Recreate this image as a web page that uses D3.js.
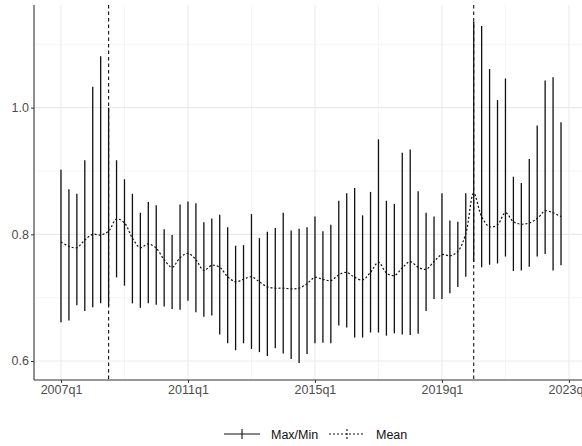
<!DOCTYPE html>
<html>
<head>
<meta charset="utf-8">
<script src="https://cdn.jsdelivr.net/npm/d3@7"></script>
<style>
  html, body { margin: 0; padding: 0; background: #fff; }
  svg { display: block; overflow: hidden; }
  text { font-family: "Liberation Sans", Arial, sans-serif; }
</style>
</head>
<body>
<svg id="chart" width="582" height="446"></svg>
<script>
// quarters 2007q1 .. 2022q4
var quarters = [];
for (var yr = 2007; yr <= 2022; yr++) {
    for (var q = 1; q <= 4; q++) quarters.push(yr + "q" + q);
}

var maxVals = [0.902, 0.871, 0.864, 0.917, 1.033, 1.081, 1.000, 0.917, 0.887, 0.864,
    0.834, 0.851, 0.846, 0.808, 0.799, 0.847, 0.852, 0.849, 0.819, 0.825,
    0.831, 0.811, 0.782, 0.783, 0.832, 0.794, 0.804, 0.810, 0.834, 0.806,
    0.809, 0.811, 0.828, 0.805, 0.815, 0.853, 0.865, 0.873, 0.830, 0.867,
    0.950, 0.853, 0.848, 0.929, 0.934, 0.868, 0.834, 0.828, 0.865, 0.822,
    0.820, 0.865, 1.136, 1.129, 1.061, 1.012, 1.046, 0.891, 0.881, 0.919,
    0.972, 1.043, 1.048, 0.977];

var minVals = [0.661, 0.664, 0.688, 0.679, 0.685, 0.691, 0.686, 0.732, 0.719, 0.691,
    0.684, 0.691, 0.689, 0.686, 0.682, 0.681, 0.695, 0.677, 0.670, 0.672,
    0.642, 0.628, 0.617, 0.628, 0.619, 0.614, 0.608, 0.620, 0.612, 0.603,
    0.597, 0.611, 0.628, 0.629, 0.628, 0.656, 0.653, 0.637, 0.637, 0.645,
    0.645, 0.640, 0.644, 0.642, 0.641, 0.643, 0.679, 0.698, 0.698, 0.707,
    0.717, 0.733, 0.757, 0.748, 0.752, 0.754, 0.765, 0.742, 0.743, 0.749,
    0.765, 0.769, 0.743, 0.751];

var meanVals = [0.788, 0.781, 0.779, 0.791, 0.800, 0.799, 0.805, 0.824, 0.818, 0.794,
    0.779, 0.785, 0.778, 0.760, 0.748, 0.763, 0.770, 0.760, 0.743, 0.751,
    0.748, 0.733, 0.725, 0.729, 0.733, 0.725, 0.717, 0.715, 0.715, 0.714,
    0.715, 0.722, 0.732, 0.729, 0.727, 0.736, 0.740, 0.732, 0.728, 0.740,
    0.756, 0.739, 0.735, 0.747, 0.757, 0.748, 0.745, 0.757, 0.768, 0.766,
    0.773, 0.801, 0.865, 0.828, 0.812, 0.815, 0.834, 0.820, 0.816, 0.818,
    0.825, 0.837, 0.834, 0.828];

var xTickLabels = ["2007q1", "2011q1", "2015q1", "2019q1", "2023q1"];
var xMinorLabels = ["2009q1", "2013q1", "2017q1", "2021q1"];
var yTicks = [0.6, 0.8, 1.0];
var yMinor = [0.7, 0.9, 1.1];
var eventQuarters = ["2008q3", "2020q1"];

function drawChart() {
    // quarter label -> index from 2007q1
    function qIndex(s) {
        return (+s.slice(0, 4) - 2007) * 4 + (+s.slice(5) - 1);
    }

    var svg = d3.select("#chart");
    var pL = 34, pR = 588, pT = 5, pB = 380;

    var x = d3.scaleLinear().domain([-3.4, 66.4]).range([pL, pR]);
    var y = d3.scaleLinear().domain([0.5700, 1.1621]).range([pB, pT]);

    var grid = svg.append("g");
    // minor grid
    grid.selectAll(".ymin").data(yMinor).enter().append("line")
        .attr("x1", pL).attr("x2", pR)
        .attr("y1", function(d) { return y(d); }).attr("y2", function(d) { return y(d); })
        .attr("stroke", "#f0f0f0").attr("stroke-width", 0.7);
    grid.selectAll(".xmin").data(xMinorLabels).enter().append("line")
        .attr("x1", function(d) { return x(qIndex(d)); }).attr("x2", function(d) { return x(qIndex(d)); })
        .attr("y1", pT).attr("y2", pB)
        .attr("stroke", "#f0f0f0").attr("stroke-width", 0.7);
    // major grid
    grid.selectAll(".ymaj").data(yTicks).enter().append("line")
        .attr("x1", pL).attr("x2", pR)
        .attr("y1", function(d) { return y(d); }).attr("y2", function(d) { return y(d); })
        .attr("stroke", "#ebebeb").attr("stroke-width", 1.1);
    grid.selectAll(".xmaj").data(xTickLabels).enter().append("line")
        .attr("x1", function(d) { return x(qIndex(d)); }).attr("x2", function(d) { return x(qIndex(d)); })
        .attr("y1", pT).attr("y2", pB)
        .attr("stroke", "#ebebeb").attr("stroke-width", 1.1);

    // max/min ranges
    svg.append("g").selectAll("line").data(quarters).enter().append("line")
        .attr("x1", function(d, i) { return x(i); }).attr("x2", function(d, i) { return x(i); })
        .attr("y1", function(d, i) { return y(minVals[i]); })
        .attr("y2", function(d, i) { return y(maxVals[i]); })
        .attr("stroke", "#111").attr("stroke-width", 1.3);

    // mean line
    var line = d3.line()
        .x(function(d, i) { return x(i); })
        .y(function(d) { return y(d); })
        .curve(d3.curveCatmullRom);
    svg.append("path").datum(meanVals)
        .attr("d", line)
        .attr("fill", "none").attr("stroke", "#111")
        .attr("stroke-width", 1.2).attr("stroke-dasharray", "2,2");

    // event lines
    svg.append("g").selectAll("line").data(eventQuarters).enter().append("line")
        .attr("x1", function(d) { return x(qIndex(d)); }).attr("x2", function(d) { return x(qIndex(d)); })
        .attr("y1", pT).attr("y2", pB)
        .attr("stroke", "#111").attr("stroke-width", 1.1).attr("stroke-dasharray", "3.5,3");

    // axes
    var yAxis = d3.axisLeft(y).tickValues(yTicks).tickFormat(d3.format(".1f")).tickSize(3).tickPadding(2);
    var gy = svg.append("g").attr("transform", "translate(" + pL + ",0)").call(yAxis);
    gy.select(".domain").attr("d", "M0," + pT + "V" + pB).attr("stroke", "#333").attr("stroke-width", 1.1);

    var xAxis = d3.axisBottom(x).tickValues(xTickLabels.map(qIndex))
        .tickFormat(function(d, i) { return xTickLabels[i]; }).tickSize(3).tickPadding(2);
    var gx = svg.append("g").attr("transform", "translate(0," + pB + ")").call(xAxis);
    gx.select(".domain").attr("d", "M" + pL + ",0H" + pR).attr("stroke", "#333").attr("stroke-width", 1.1);

    [gx, gy].forEach(function(g) {
        g.selectAll(".tick line").attr("stroke", "#333");
        g.selectAll(".tick text").attr("fill", "#4d4d4d").style("font-size", "12.5px")
            .style("font-family", "'Liberation Sans', Arial, sans-serif");
    });

    // legend
    var leg = svg.append("g").attr("transform", "translate(0,434)");
    leg.append("line").attr("x1", 224).attr("x2", 260).attr("y1", 0).attr("y2", 0)
        .attr("stroke", "#111").attr("stroke-width", 1.1);
    leg.append("line").attr("x1", 242).attr("x2", 242).attr("y1", -5).attr("y2", 5)
        .attr("stroke", "#111").attr("stroke-width", 1.1);
    leg.append("text").attr("x", 271).attr("y", 4.5).attr("fill", "#111")
        .style("font-size", "12.5px").text("Max/Min");
    leg.append("line").attr("x1", 329).attr("x2", 365).attr("y1", 0).attr("y2", 0)
        .attr("stroke", "#111").attr("stroke-width", 1.1).attr("stroke-dasharray", "2,2");
    leg.append("line").attr("x1", 347).attr("x2", 347).attr("y1", -5).attr("y2", 5)
        .attr("stroke", "#111").attr("stroke-width", 1.1).attr("stroke-dasharray", "2,2");
    leg.append("text").attr("x", 376).attr("y", 4.5).attr("fill", "#111")
        .style("font-size", "12.5px").text("Mean");
}

drawChart();
</script>
</body>
</html>
